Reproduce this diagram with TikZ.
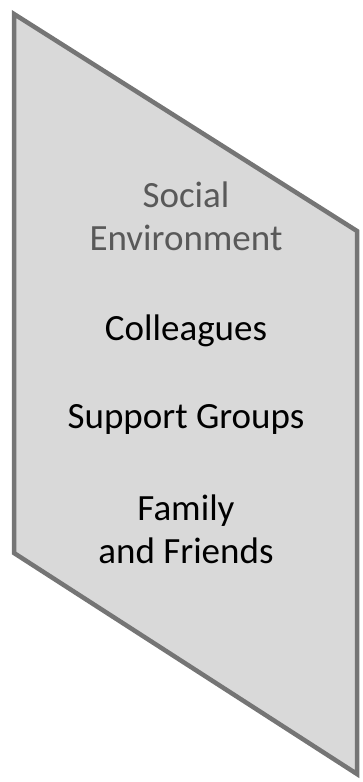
\documentclass[tikz,border=0pt]{standalone}
\usepackage{fontspec}
\setmainfont{Carlito}
\usetikzlibrary{positioning}

\begin{document}
\begin{tikzpicture}[
  x=1pt, y=-1pt,
  every node/.style={align=center, inner sep=0pt},
  %% ─── styles ──────────────────────────────────────────────
  panel/.style={draw=black!54, fill=black!15, line width=4.5pt, line join=miter},
  heading/.style={text=black!65, font=\fontsize{37}{43}\selectfont},
  item/.style={text=black, font=\fontsize{37}{43}\selectfont}
]
  \useasboundingbox (0,0) rectangle (362,782);

  %% ─── slanted panel ──────────────────────────────────────
  \coordinate (TL) at (14,14);
  \coordinate (TR) at (357,231);
  \coordinate (BR) at (357,774);
  \coordinate (BL) at (14,553);
  \draw[panel] (TL) -- (TR) -- (BR) -- (BL) -- cycle;

  %% ─── labels (base = last line) ──────────────────────────
  \node[heading, anchor=base] (Social) at (186,250) {Social\\Environment};
  \node[item, anchor=base] (Colleagues) at (186,340) {Colleagues};
  \node[item, anchor=base] (Support) at (186,428) {Support Groups};
  \node[item, anchor=base] (Family) at (186,563) {Family\\and Friends};

\end{tikzpicture}
\end{document}
